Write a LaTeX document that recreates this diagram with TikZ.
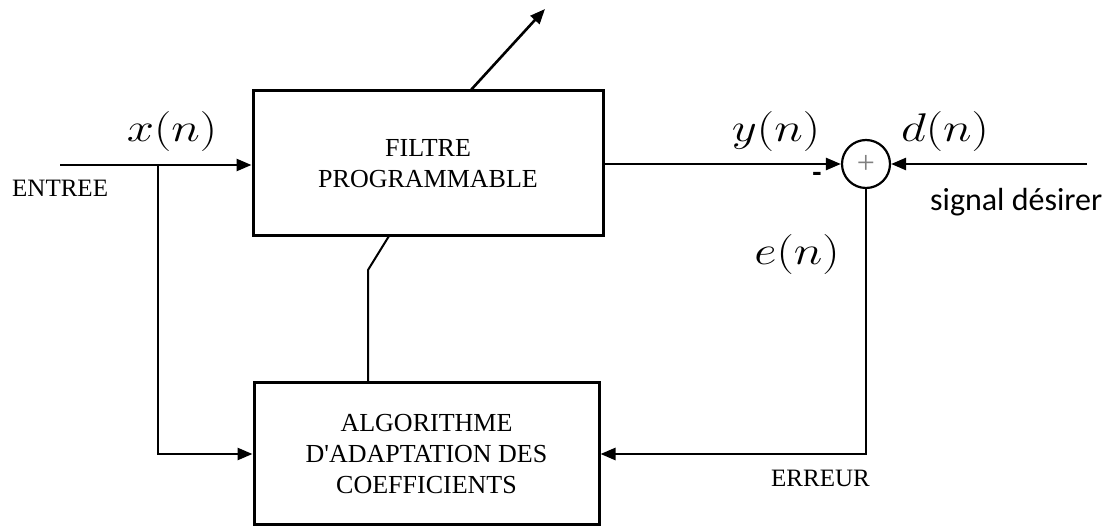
\documentclass[tikz,border=0pt]{standalone}
\usepackage{fix-cm}
\usepackage{graphicx}
\usepackage{fontspec}
\setmainfont{Liberation Serif}
\newfontfamily\calib{Carlito}
\usetikzlibrary{arrows.meta}
\begin{document}
\begin{tikzpicture}[x=1pt,y=-1pt,
  blk/.style={draw,line width=3pt,inner sep=0pt,align=center,font=\fontsize{26}{31}\selectfont},
  conn/.style={line width=2.6pt},
  arr/.style={conn,-{Triangle[length=15pt,width=12pt]}},
  mathlbl/.style={inner sep=0pt,anchor=base},
  txtlbl/.style={inner sep=0pt,font=\fontsize{25}{30}\selectfont}]
\useasboundingbox (0,0) rectangle (1112,526);
\node[blk,minimum width=350pt,minimum height=145pt] (filt) at (428,163.5) {FILTRE\\PROGRAMMABLE};
\node[blk,minimum width=345pt,minimum height=142pt] (algo) at (426.5,454) {ALGORITHME\\D\textquotesingle ADAPTATION DES\\COEFFICIENTS};
\node[draw,circle,line width=2.2pt,minimum size=48pt,inner sep=0pt] (sum) at (866,164) {\textcolor{gray}{\fontsize{32}{32}\selectfont +}};
\coordinate (in) at (60,165);
\coordinate (br) at (158,165);
\coordinate (dr) at (1087,164);
\coordinate (pl) at (368,270);
\coordinate (pt) at (389,236);
\coordinate (ab) at (470,91);
\coordinate (at) at (545,9);
\draw[arr] (in) -- (in -| filt.west);
\draw[arr] (br) |- (algo.west);
\draw[arr] (filt.east |- sum) -- (sum.west);
\draw[arr] (dr) -- (sum.east);
\draw[arr] (sum.south) |- (algo.east);
\draw[line width=2pt] (algo.north -| pl) -- (pl) -- (pt);
\draw[arr] (ab) -- (at);
\node[mathlbl] (xl) at (172,142) {\scalebox{1.22}[1]{\fontsize{40}{48}\selectfont$x(n)$}};
\node[mathlbl] (yl) at (776,142) {\scalebox{1.22}[1]{\fontsize{40}{48}\selectfont$y(n)$}};
\node[mathlbl] (dl) at (945,142) {\scalebox{1.22}[1]{\fontsize{40}{48}\selectfont$d(n)$}};
\node[mathlbl] (el) at (797,265) {\scalebox{1.22}[1]{\fontsize{40}{48}\selectfont$e(n)$}};
\node[txtlbl,anchor=base west] (ent) at (12,197) {ENTREE};
\node[txtlbl,anchor=base east] (err) at (870,487) {ERREUR};
\node[inner sep=0pt,anchor=base west,font=\calib\fontsize{32}{38}\selectfont] (sig) at (930,211) {signal désirer};
\node[inner sep=0pt,font=\calib\bfseries\fontsize{30}{30}\selectfont] (mn) at (817,177) {-};
\end{tikzpicture}
\end{document}
